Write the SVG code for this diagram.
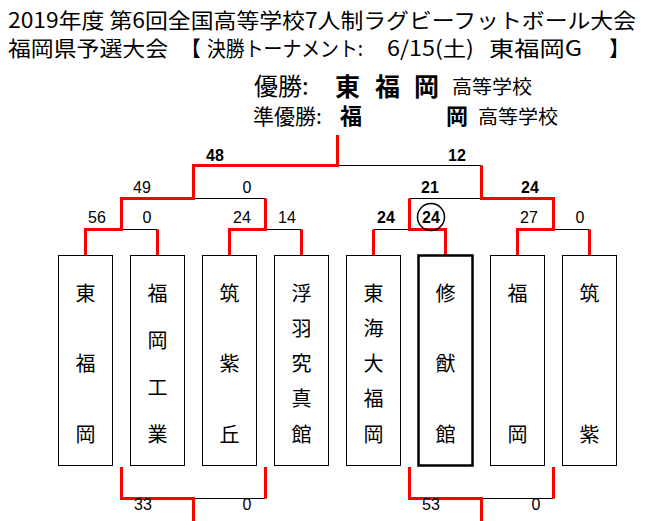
<svg xmlns="http://www.w3.org/2000/svg" width="651" height="521" viewBox="0 0 651 521">
<style>
.t{font-family:"Noto Sans CJK JP","Liberation Sans",sans-serif;fill:#000}
.box{fill:#fff;stroke:#000;stroke-width:1}
.win{fill:#fff;stroke:#000;stroke-width:2.5}
.nm{font-family:"Noto Sans CJK JP",sans-serif;font-size:20px;text-anchor:middle;dominant-baseline:central;fill:#000}
.sc{font-family:"Liberation Sans","Noto Sans CJK JP",sans-serif;font-size:16px;text-anchor:middle;fill:#000}
.b{font-weight:bold}
.red{fill:none;stroke:#ff0000;stroke-width:3;stroke-linejoin:miter}
.blk{fill:none;stroke:#000;stroke-width:1}
</style>
<rect width="651" height="521" fill="#fff"/>
<g id="title">
<text class="t" x="8" y="28" font-size="21" textLength="628" lengthAdjust="spacingAndGlyphs">2019年度 第6回全国高等学校7人制ラグビーフットボール大会</text>
<text class="t" x="8" y="56" font-size="21" textLength="160" lengthAdjust="spacingAndGlyphs">福岡県予選大会</text>
<text class="t" x="180" y="56" font-size="21">【</text>
<text class="t" x="207" y="56" font-size="21" textLength="156" lengthAdjust="spacingAndGlyphs">決勝トーナメント:</text>
<text class="t" x="387" y="56" font-size="21" textLength="87" lengthAdjust="spacingAndGlyphs">6/15(土)</text>
<text class="t" x="489" y="56" font-size="21" textLength="93" lengthAdjust="spacingAndGlyphs">東福岡G</text>
<text class="t" x="609" y="56" font-size="21">】</text>
<text class="t" x="254" y="95" font-size="24">優勝:</text>
<text class="t" x="335" y="96" font-size="25" font-weight="bold">東</text>
<text class="t" x="375" y="96" font-size="25" font-weight="bold">福</text>
<text class="t" x="414" y="96" font-size="25" font-weight="bold">岡</text>
<text class="t" x="452" y="94" font-size="19" textLength="80" lengthAdjust="spacingAndGlyphs">高等学校</text>
<text class="t" x="253" y="124" font-size="21">準優勝:</text>
<text class="t" x="340" y="124" font-size="22" font-weight="bold">福</text>
<text class="t" x="446" y="124" font-size="22" font-weight="bold">岡</text>
<text class="t" x="478" y="124" font-size="19" textLength="80" lengthAdjust="spacingAndGlyphs">高等学校</text>
</g>
<g id="connectors">
<path class="blk" d="M121.5 229.5H157.5M265.5 229.5H301.5M373.5 229.5H409.5M553.5 229.5H589.5M193.5 198.5H265.5M409.5 198.5H481.5M337.5 165.5H481.5M193.5 498.5H265.5M481.5 498.5H553.5"/>
<path class="red" d="M85.5 255V229.5H121.5V198.5H193.5V165.5H337.5V135"/>
<path class="red" d="M157.5 255V229.5"/>
<path class="red" d="M229.5 255V229.5H265.5V198.5"/>
<path class="red" d="M301.5 255V229.5"/>
<path class="red" d="M373.5 255V229.5"/>
<path class="red" d="M445.5 255V229.5H409.5V198.5"/>
<path class="red" d="M517.5 255V229.5H553.5V198.5H481.5V165.5"/>
<path class="red" d="M589.5 255V229.5"/>
<path class="red" d="M121.5 467V498.5H193.5V521"/>
<path class="red" d="M265.5 467V498.5"/>
<path class="red" d="M409.5 467V498.5H481.5V521"/>
<path class="red" d="M553.5 467V498.5"/>
</g>
<g id="scores">
<text class="sc b" x="215" y="161">48</text>
<text class="sc b" x="457" y="161">12</text>
<text class="sc" x="142" y="193">49</text>
<text class="sc" x="247" y="193">0</text>
<text class="sc b" x="430" y="193">21</text>
<text class="sc b" x="530" y="193">24</text>
<text class="sc" x="97" y="223">56</text>
<text class="sc" x="147" y="223">0</text>
<text class="sc" x="242" y="223">24</text>
<text class="sc" x="287" y="223">14</text>
<text class="sc b" x="386" y="223">24</text>
<text class="sc b" x="431" y="223">24</text>
<circle cx="431" cy="217" r="13.5" fill="none" stroke="#000" stroke-width="1.5"/>
<text class="sc" x="529" y="223">27</text>
<text class="sc" x="580" y="223">0</text>
<text class="sc" x="143" y="510">33</text>
<text class="sc" x="247" y="510">0</text>
<text class="sc" x="431" y="510">53</text>
<text class="sc" x="536" y="510">0</text>
</g>
<g id="n1"><rect class="box" x="58.5" y="255.5" width="54" height="210"/><text class="nm" x="85.5" y="292">東</text><text class="nm" x="85.5" y="362.5">福</text><text class="nm" x="85.5" y="433">岡</text></g>
<g id="n2"><rect class="box" x="130.5" y="255.5" width="54" height="210"/><text class="nm" x="157.5" y="292">福</text><text class="nm" x="157.5" y="339">岡</text><text class="nm" x="157.5" y="386">工</text><text class="nm" x="157.5" y="433">業</text></g>
<g id="n3"><rect class="box" x="202.5" y="255.5" width="54" height="210"/><text class="nm" x="229.5" y="292">筑</text><text class="nm" x="229.5" y="362.5">紫</text><text class="nm" x="229.5" y="433">丘</text></g>
<g id="n4"><rect class="box" x="274.5" y="255.5" width="54" height="210"/><text class="nm" x="301.5" y="292">浮</text><text class="nm" x="301.5" y="327.25">羽</text><text class="nm" x="301.5" y="362.5">究</text><text class="nm" x="301.5" y="397.75">真</text><text class="nm" x="301.5" y="433">館</text></g>
<g id="n5"><rect class="box" x="346.5" y="255.5" width="54" height="210"/><text class="nm" x="373.5" y="292">東</text><text class="nm" x="373.5" y="327.25">海</text><text class="nm" x="373.5" y="362.5">大</text><text class="nm" x="373.5" y="397.75">福</text><text class="nm" x="373.5" y="433">岡</text></g>
<g id="n6"><rect class="win" x="418.5" y="255.5" width="54" height="210"/><text class="nm" x="445.5" y="292">修</text><text class="nm" x="445.5" y="362.5">猷</text><text class="nm" x="445.5" y="433">館</text></g>
<g id="n7"><rect class="box" x="490.5" y="255.5" width="54" height="210"/><text class="nm" x="517.5" y="292">福</text><text class="nm" x="517.5" y="433">岡</text></g>
<g id="n8"><rect class="box" x="562.5" y="255.5" width="54" height="210"/><text class="nm" x="589.5" y="292">筑</text><text class="nm" x="589.5" y="433">紫</text></g>
</svg>
